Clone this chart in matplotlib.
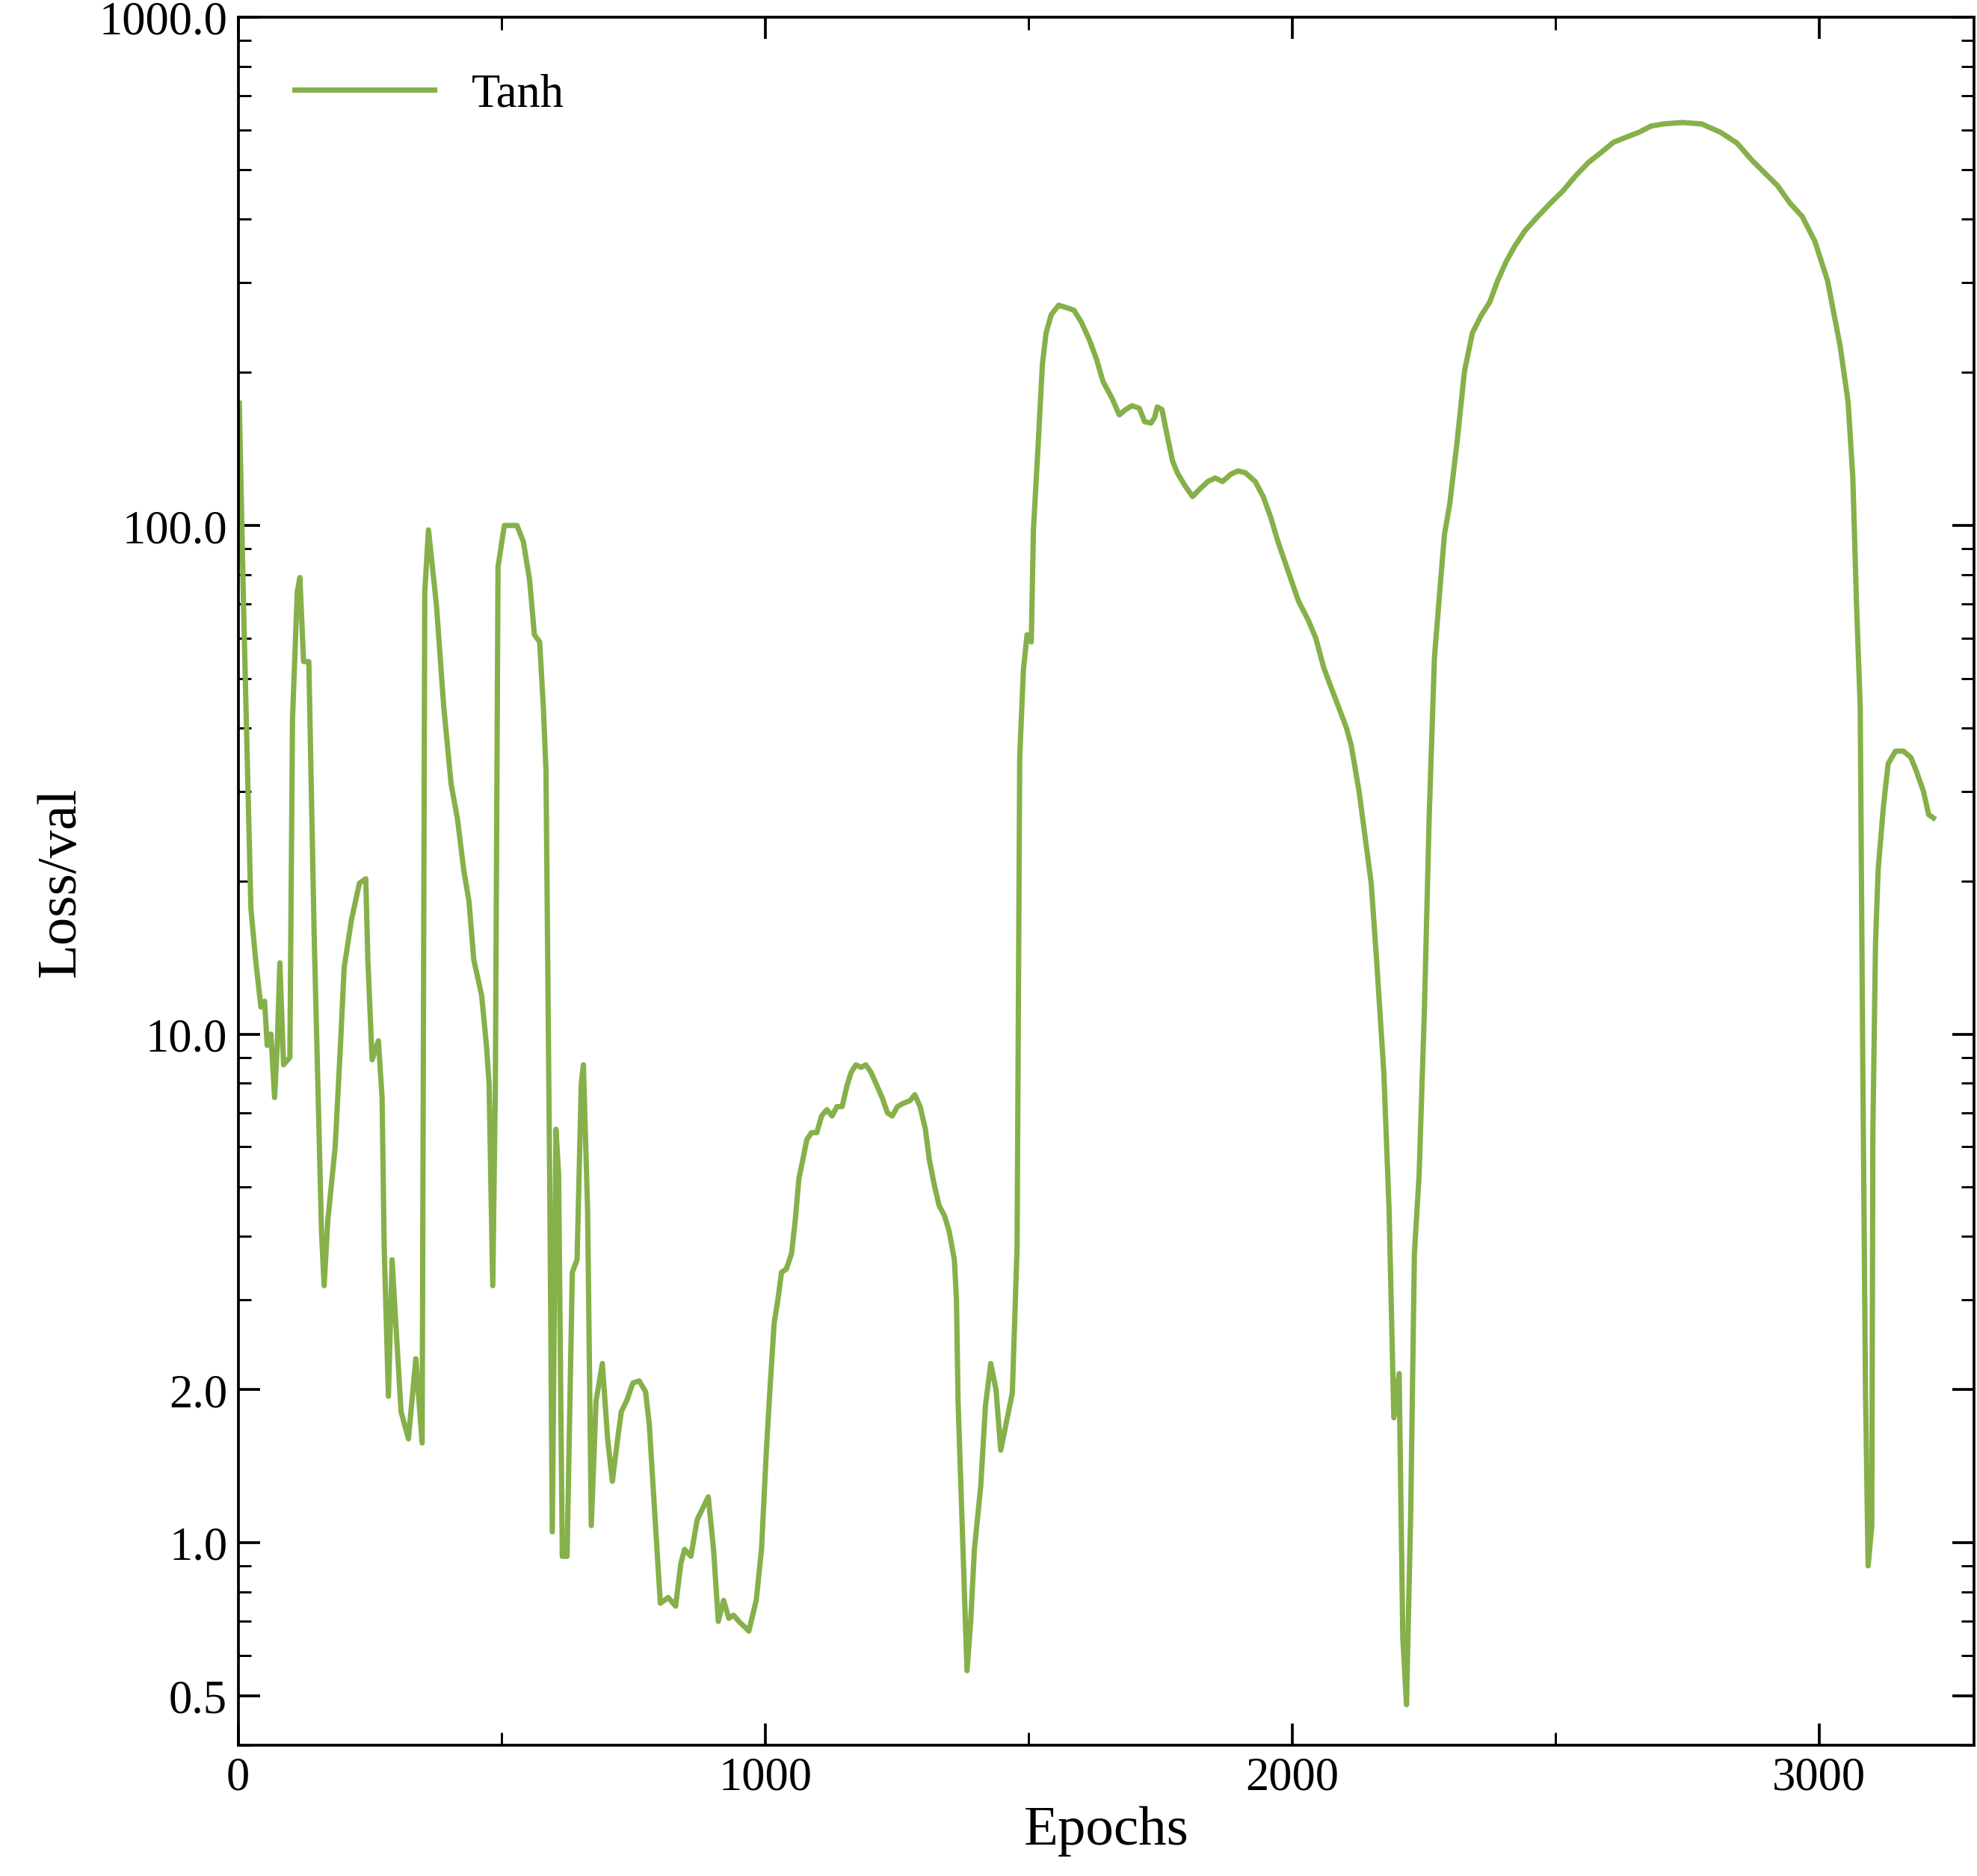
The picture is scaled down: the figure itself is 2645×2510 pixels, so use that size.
import matplotlib
matplotlib.use("Agg")
import matplotlib.pyplot as plt
from matplotlib.ticker import FixedLocator, FixedFormatter, LogLocator, MultipleLocator, NullFormatter

epochs = [2,10,17,24,33,43,50,55,62,69,74,79,86,98,103,112,117,124,134,144,151,158,163,170,184,194,201,215,230,242,246,254,266,273,277,285,292,299,309,323,337,349,354,361,376,390,397,404,416,428,438,447,462,471,476,483,488,493,505,529,541,553,562,572,579,584,591,596,603,608,615,624,634,643,651,655,663,670,679,691,701,710,720,727,737,749,761,773,780,801,816,830,840,847,859,871,880,892,902,911,921,931,940,950,969,983,993,1002,1009,1017,1024,1031,1040,1050,1057,1064,1072,1079,1088,1098,1107,1117,1127,1136,1146,1155,1163,1172,1182,1191,1201,1210,1222,1232,1241,1251,1261,1275,1284,1294,1304,1311,1320,1330,1340,1349,1359,1363,1366,1373,1383,1390,1397,1409,1418,1428,1438,1447,1457,1469,1478,1483,1490,1497,1505,1509,1517,1526,1533,1543,1557,1572,1586,1600,1615,1629,1641,1658,1672,1684,1696,1710,1720,1732,1739,1744,1753,1763,1773,1782,1796,1811,1825,1840,1854,1868,1883,1897,1911,1930,1945,1959,1973,1993,2012,2031,2045,2060,2074,2088,2103,2112,2127,2141,2150,2160,2174,2184,2193,2203,2210,2217,2225,2232,2241,2251,2260,2270,2280,2289,2299,2313,2327,2342,2358,2375,2390,2406,2423,2442,2466,2490,2514,2538,2562,2586,2610,2634,2658,2681,2705,2741,2777,2813,2844,2873,2897,2921,2945,2968,2992,3016,3040,3055,3064,3071,3078,3083,3088,3093,3100,3102,3107,3112,3122,3131,3145,3160,3174,3184,3198,3208,3217]
loss = [174,70,35,17.7,14,11.3,11.6,9.5,10,7.5,9.5,13.8,8.7,9,41.6,74,79,54,54,15.8,8,4.1,3.2,4.3,6,9.5,13.5,16.8,19.8,20.2,14,8.9,9.7,7.5,3.8,1.94,3.6,2.7,1.81,1.6,2.3,1.57,74,98,70,44,37,31,26.5,21,18.2,14,11.9,9.5,8,3.2,8,83,100,100,93,78,61,59,44,33,5.3,1.05,6.5,5.3,0.94,0.94,3.4,3.6,8,8.7,4.5,1.08,1.9,2.25,1.6,1.32,1.6,1.81,1.9,2.06,2.08,1.98,1.71,0.76,0.78,0.75,0.91,0.97,0.94,1.11,1.16,1.23,0.97,0.70,0.77,0.71,0.72,0.70,0.67,0.77,0.97,1.5,2.0,2.7,3.0,3.4,3.45,3.7,4.3,5.2,5.7,6.2,6.4,6.4,6.9,7.1,6.9,7.2,7.2,7.9,8.4,8.7,8.6,8.7,8.4,8.0,7.5,7.0,6.9,7.2,7.3,7.4,7.6,7.2,6.5,5.7,5.1,4.6,4.4,4.1,3.6,3.0,1.9,1.15,0.56,0.70,0.97,1.29,1.86,2.25,2.0,1.52,1.71,1.97,3.8,35,52,61,59,98,138,207,239,260,271,268,265,251,232,212,192,178,165,169,172,170,160,159,163,171,169,150,134,127,120,114,118,122,124,122,126,128,127,122,114,104,93,81,71,65,60,52.5,48,44,40,37,30,23.3,19.8,14.1,8.4,4.5,1.76,2.15,0.65,0.48,1.15,3.7,5.3,11.2,26.6,55,74,96,110,146,201,239,258,275,303,330,355,380,405,430,455,487,517,541,567,580,593,610,616,620,616,593,565,522,493,466,430,405,362,303,225,175,124,70,44,8.4,2.0,0.9,1.08,6.4,15,21,28,34,36,36,35,33,30,27,26.6]

y_ticks = [0.5, 1.0, 2.0, 10.0, 100.0, 1000.0]
y_labels = ["0.5", "1.0", "2.0", "10.0", "100.0", "1000.0"]

plt.rcParams['font.family'] = ['Liberation Serif', 'DejaVu Serif']
plt.rcParams['mathtext.fontset'] = 'stix'

fig = plt.figure(figsize=(2645/300, 2511/300), dpi=300)
ax = fig.add_axes([0.1205, 0.0698, 0.878, 0.9208])
ax.plot(epochs, loss, color='#86b04a', lw=1.7, label='Tanh')
ax.set_yscale('log')
ax.set_xlim(0, 3294)
ax.set_ylim(0.40, 1000)
ax.yaxis.set_major_locator(FixedLocator(y_ticks))
ax.yaxis.set_major_formatter(FixedFormatter(y_labels))
ax.yaxis.set_minor_locator(LogLocator(base=10, subs=[1,2,3,4,5,6,7,8,9]))
ax.yaxis.set_minor_formatter(NullFormatter())
ax.xaxis.set_major_locator(MultipleLocator(1000))
ax.xaxis.set_minor_locator(MultipleLocator(500))
ax.tick_params(which='both', direction='in', top=True, right=True, labelsize=15)
ax.tick_params(which='major', length=7, width=0.9)
ax.tick_params(which='minor', length=4, width=0.7)
for s in ax.spines.values():
    s.set_linewidth(0.9)
ax.set_xlabel('Epochs', fontsize=18, labelpad=2)
ax.set_ylabel('Loss/val', fontsize=18)
ax.legend(loc='upper left', frameon=False, fontsize=15, handlelength=3, borderaxespad=0.8)
fig.savefig('out.png', dpi=300)
